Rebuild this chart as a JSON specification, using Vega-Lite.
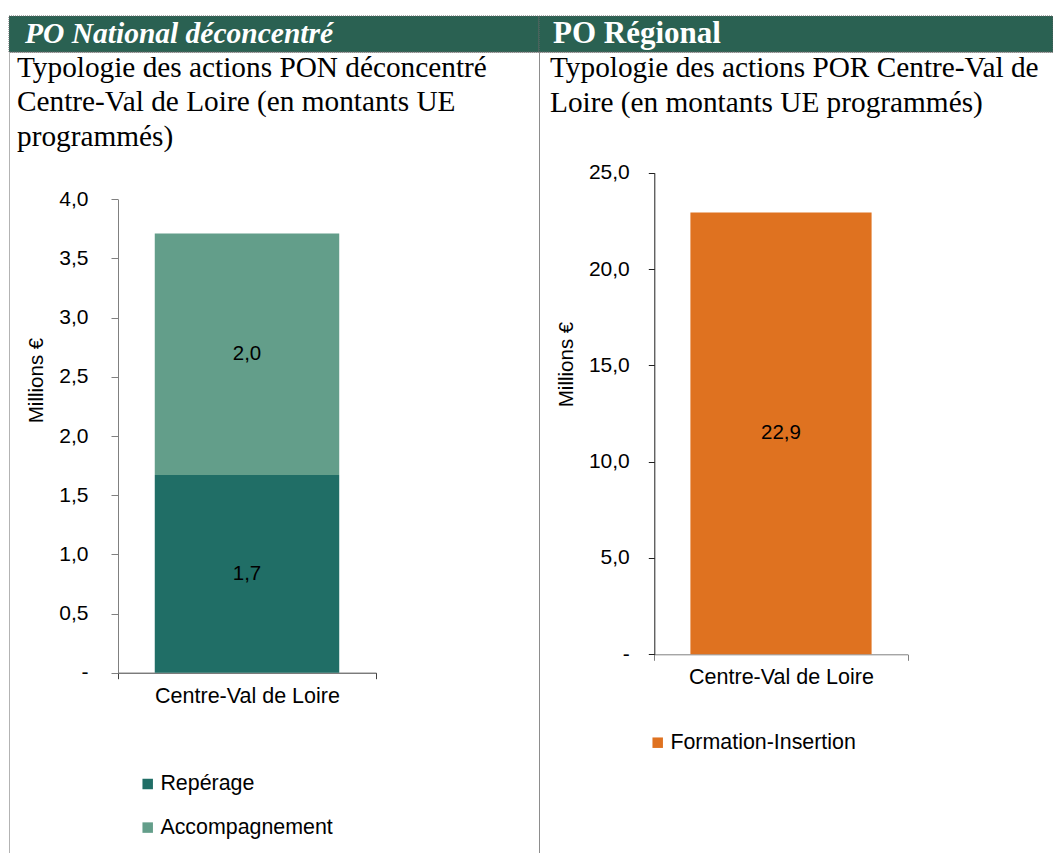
{
  "$schema": "https://vega.github.io/schema/vega-lite/v6.json",
  "padding": {"left": 8, "top": 15, "right": 0, "bottom": 0},
  "background": "white",
  "bounds": "flush",
  "spacing": 0,
  "columns": 2,
  "resolve": {"scale": {"color": "independent", "x": "independent", "y": "independent"}, "legend": {"color": "independent"}},
  "config": {
    "locale": {"number": {"decimal": ",", "thousands": "\u00a0", "grouping": [3], "currency": ["", "\u00a0€"]}},
    "font": "Liberation Sans",
    "axis": {"grid": false, "labelFont": "Liberation Sans", "labelFontSize": 21, "labelColor": "#000000", "titleFont": "Liberation Sans", "titleFontSize": 20.5, "titleFontWeight": "normal", "titleColor": "#000000"},
    "legend": {"labelFont": "Liberation Sans", "labelFontSize": 21.4, "labelColor": "#000000", "labelLimit": 400},
    "view": {"stroke": null}
  },
  "concat": [
    {
      "width": 530,
      "height": 36,
      "data": {"values": [{"entete": "PO National déconcentré"}]},
      "mark": {"type": "rect", "fill": "#2a6152", "stroke": "#666666", "strokeDash": [1, 1], "strokeWidth": 1},
      "encoding": {},
      "title": {"text": "PO National déconcentré", "orient": "bottom", "anchor": "start", "frame": "group", "offset": -9.5, "dx": 16, "baseline": "alphabetic", "align": "left", "font": "Liberation Serif", "fontSize": 29.5, "fontStyle": "italic", "fontWeight": "bold", "color": "#ffffff"}
    },
    {
      "width": 514,
      "height": 36,
      "data": {"values": [{"entete": "PO Régional"}]},
      "mark": {"type": "rect", "fill": "#2a6152", "stroke": "#666666", "strokeDash": [1, 1], "strokeWidth": 1},
      "encoding": {},
      "title": {"text": "PO Régional", "orient": "bottom", "anchor": "start", "frame": "group", "offset": -9.5, "dx": 14, "baseline": "alphabetic", "align": "left", "font": "Liberation Serif", "fontSize": 31, "fontStyle": "normal", "fontWeight": "bold", "color": "#ffffff"}
    },
    {
      "width": 530,
      "height": 802,
      "view": {"stroke": "#666666", "strokeDash": [1, 1], "strokeWidth": 1},
      "title": {"text": ["Typologie des actions PON déconcentré", "Centre-Val de Loire (en montants UE", "programmés)"], "orient": "top", "anchor": "start", "frame": "group", "offset": -123, "dx": 8, "baseline": "alphabetic", "align": "left", "lineHeight": 34.5, "font": "Liberation Serif", "fontSize": 29.3, "fontWeight": "normal", "color": "#000000"},
      "data": {"values": [
        {"region": "Centre-Val de Loire", "type": "Repérage", "montant": 1.67, "ordre": 1},
        {"region": "Centre-Val de Loire", "type": "Accompagnement", "montant": 2.04, "ordre": 2}
      ]},
      "encoding": {
        "x": {"field": "region", "type": "nominal", "scale": {"range": [109, 367], "paddingInner": 0, "paddingOuter": 0},
              "axis": {"title": null, "labelAngle": 0, "labelFontSize": 21.5, "labelLimit": 400, "offset": -181.3, "tickBand": "extent", "tickSize": 6, "labelPadding": 7, "domainColor": "#404040", "tickColor": "#404040"}},
        "y": {"field": "montant", "type": "quantitative", "stack": "zero", "scale": {"domain": [0, 4], "range": [620.7, 147.3], "nice": false},
              "axis": {"title": "Millions €", "offset": -109, "values": [0, 0.5, 1, 1.5, 2, 2.5, 3, 3.5, 4], "labelExpr": "datum.value === 0 ? '-' : replace(format(datum.value, '.1f'), '.', ',')", "tickSize": 7, "labelPadding": 23, "domainColor": "#808080", "tickColor": "#808080", "titleX": -76, "titleY": 328, "titleBaseline": "alphabetic"}},
        "order": {"field": "ordre", "type": "quantitative"}
      },
      "layer": [
        {
          "mark": {"type": "bar", "width": {"band": 0.715}},
          "encoding": {
            "color": {"field": "type", "type": "nominal", "scale": {"domain": ["Repérage", "Accompagnement"], "range": ["#206e66", "#639e8a"]},
                      "legend": {"title": null, "orient": "none", "legendX": 128, "legendY": 721.3, "direction": "vertical", "symbolType": "square", "symbolSize": 110, "symbolStrokeWidth": 0, "rowPadding": 20.6, "padding": 0, "labelOffset": 2}}
          }
        },
        {
          "mark": {"type": "text", "font": "Liberation Sans", "fontSize": 20.5, "color": "#000000"},
          "encoding": {
            "y": {"field": "montant", "type": "quantitative", "stack": "zero", "bandPosition": 0.5},
            "detail": {"field": "type"},
            "text": {"field": "montant", "type": "quantitative", "format": ".1f"}
          }
        }
      ]
    },
    {
      "width": 514,
      "height": 802,
      "view": {"stroke": "#666666", "strokeDash": [1, 1], "strokeWidth": 1},
      "title": {"text": ["Typologie des actions POR Centre-Val de", "Loire (en montants UE programmés)"], "orient": "top", "anchor": "start", "frame": "group", "offset": -89, "dx": 11, "baseline": "alphabetic", "align": "left", "lineHeight": 34.5, "font": "Liberation Serif", "fontSize": 29.3, "fontWeight": "normal", "color": "#000000"},
      "data": {"values": [
        {"region": "Centre-Val de Loire", "type": "Formation-Insertion", "montant": 22.93, "ordre": 1}
      ]},
      "encoding": {
        "x": {"field": "region", "type": "nominal", "scale": {"range": [115.3, 368.7], "paddingInner": 0, "paddingOuter": 0},
              "axis": {"title": null, "labelAngle": 0, "labelFontSize": 21.5, "labelLimit": 400, "offset": -199.7, "tickBand": "extent", "tickSize": 6, "labelPadding": 6, "domainColor": "#808080", "tickColor": "#808080"}},
        "y": {"field": "montant", "type": "quantitative", "stack": "zero", "scale": {"domain": [0, 25], "range": [602.3, 120.7], "nice": false},
              "axis": {"title": "Millions €", "offset": -115.3, "values": [0, 5, 10, 15, 20, 25], "labelExpr": "datum.value === 0 ? '-' : replace(format(datum.value, '.1f'), '.', ',')", "tickSize": 6, "labelPadding": 19, "domainColor": "#202020", "tickColor": "#202020", "titleX": -81.5, "titleY": 312, "titleBaseline": "alphabetic"}},
        "order": {"field": "ordre", "type": "quantitative"}
      },
      "layer": [
        {
          "mark": {"type": "bar", "width": {"band": 0.715}},
          "encoding": {
            "color": {"field": "type", "type": "nominal", "scale": {"domain": ["Formation-Insertion"], "range": ["#df7220"]},
                      "legend": {"title": null, "orient": "none", "legendX": 108, "legendY": 680, "direction": "vertical", "symbolType": "square", "symbolSize": 110, "symbolStrokeWidth": 0, "padding": 0, "labelOffset": 2}}
          }
        },
        {
          "mark": {"type": "text", "font": "Liberation Sans", "fontSize": 20.5, "color": "#000000"},
          "encoding": {
            "y": {"field": "montant", "type": "quantitative", "stack": "zero", "bandPosition": 0.5},
            "detail": {"field": "type"},
            "text": {"field": "montant", "type": "quantitative", "format": ".1f"}
          }
        }
      ]
    }
  ]
}
